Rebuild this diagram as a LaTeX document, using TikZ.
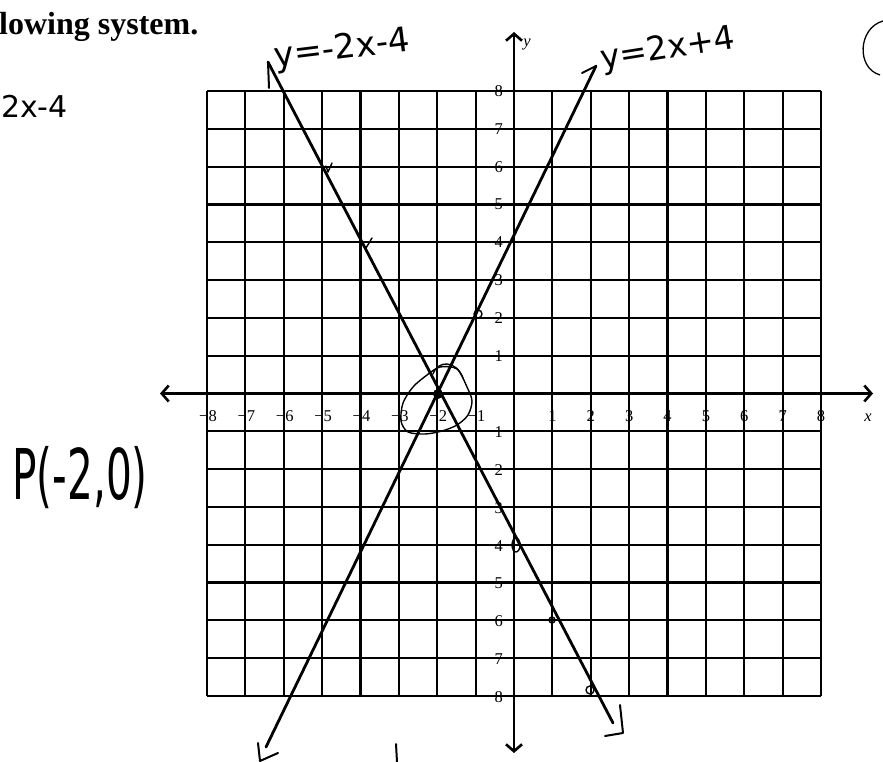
\documentclass[tikz,border=0pt]{standalone}
\usepackage{fontspec}
\setmainfont{Liberation Serif}
\newfontfamily\hand{DejaVu Sans}
\usetikzlibrary{arrows.meta}
\begin{document}
\begin{tikzpicture}[x=1pt,y=-1pt,
  gridline/.style={line width=2.2pt},
  axisline/.style={line width=2.6pt,{Straight Barb[length=7pt,width=16pt]}-{Straight Barb[length=7pt,width=16pt]}},
  graphline/.style={line width=2.8pt,line cap=round},
  handline/.style={line width=2pt,line cap=round,line join=round},
  thinhand/.style={line width=1.4pt,line cap=round,line join=round},
  tick/.style={font=\fontsize{16.5}{16.5}\selectfont,inner sep=0pt},
  handtext/.style={inner sep=0pt},
]
\useasboundingbox (0,0) rectangle (883,762);
% grid
\foreach \i in {0,...,16}{
  \draw[gridline] ({207+38.375*\i},91) -- ({207+38.375*\i},696);
  \draw[gridline] (207,{91+37.8125*\i}) -- (821,{91+37.8125*\i});
}
% axes
\coordinate (xl) at (160,393.5);
\coordinate (xr) at (873,393.5);
\coordinate (yt) at (514,32);
\coordinate (yb) at (514,753);
\draw[axisline] (xl) -- (xr);
\draw[axisline] (yb) -- (yt);
% tick labels
\foreach \v in {1,...,8}{
  \node[tick] (xn\v) at ({514-38.375*\v+1},416) {−\v};
  \node[tick] (xp\v) at ({514+38.375*\v},416) {\v};
  \node[tick,anchor=east] (yp\v) at (503,{393.5-37.8125*\v}) {\v};
  \node[tick,anchor=east] (yn\v) at (503,{393.5+37.8125*\v+1}) {−\v};
}
\node[tick,font=\fontsize{16.5}{16.5}\selectfont\itshape] (xlab) at (868,418) {x};
\node[tick,font=\fontsize{16.5}{16.5}\selectfont\itshape] (ylab) at (527,44) {y};
% graph lines
\coordinate (a1) at (268,62);
\coordinate (a2) at (613,723);
\coordinate (b1) at (596,66);
\coordinate (b2) at (266,747);
\draw[graphline] (a1) -- (a2);
\draw[graphline] (b1) -- (b2);
% hand-drawn arrowheads
\coordinate (a1s) at (269,88);
\coordinate (b1s) at (582,73);
\draw[handline] (a1) -- (a1s);
\draw[handline] (b1) -- (b1s);
\draw[handline] (258,743) -- (260,761) -- (278,753);
\draw[handline] (620,705) -- (623,733) -- (605,736);
\draw[handline] (396,744) -- (397,762);
% intersection point and loop
\coordinate (P) at (438,394);
\fill (P) circle (5pt);
\draw[thinhand] plot[smooth cycle] coordinates {(440,367) (457,369) (467,387) (472,401) (468,415) (457,425) (442,431) (425,434) (408,432) (401,421) (403,403) (413,387) (427,375)};
\draw[thinhand] (433,374) .. controls (438,360) and (456,360) .. (463,378);
% small hand marks on points
\draw[thinhand] (326,166) -- (328,172) -- (332,163);
\draw[thinhand] (363,244) -- (366,248) -- (372,238);
\draw[thinhand] (478,314) circle (4pt);
\draw[thinhand] (516,545) ellipse (4pt and 7pt);
\draw[thinhand] (552,620) circle (3pt);
\draw[thinhand] (590,690) circle (4pt);
% top-right partial circle
\draw[line width=1.3pt] (883,21) .. controls (858,28) and (856,68) .. (880,75);
% texts
\node[anchor=base west,inner sep=0pt,font=\bfseries\fontsize{32}{32}\selectfont] (title) at (-1,35) {lowing system.};
\node[handtext,anchor=base east,font=\hand\fontsize{30}{30}\selectfont] (eqL) at (68,118) {2x-4};
\node[handtext,rotate=7,font=\hand\fontsize{34}{34}\selectfont] (eqA) at (342,50) {y=-2x-4};
\node[handtext,rotate=9,font=\hand\fontsize{33}{33}\selectfont] (eqB) at (668,50) {y=2x+4};
\node[handtext,xscale=0.58,font=\hand\fontsize{70}{70}\selectfont] (pt) at (80,478) {P(-2,0)};
\end{tikzpicture}
\end{document}
